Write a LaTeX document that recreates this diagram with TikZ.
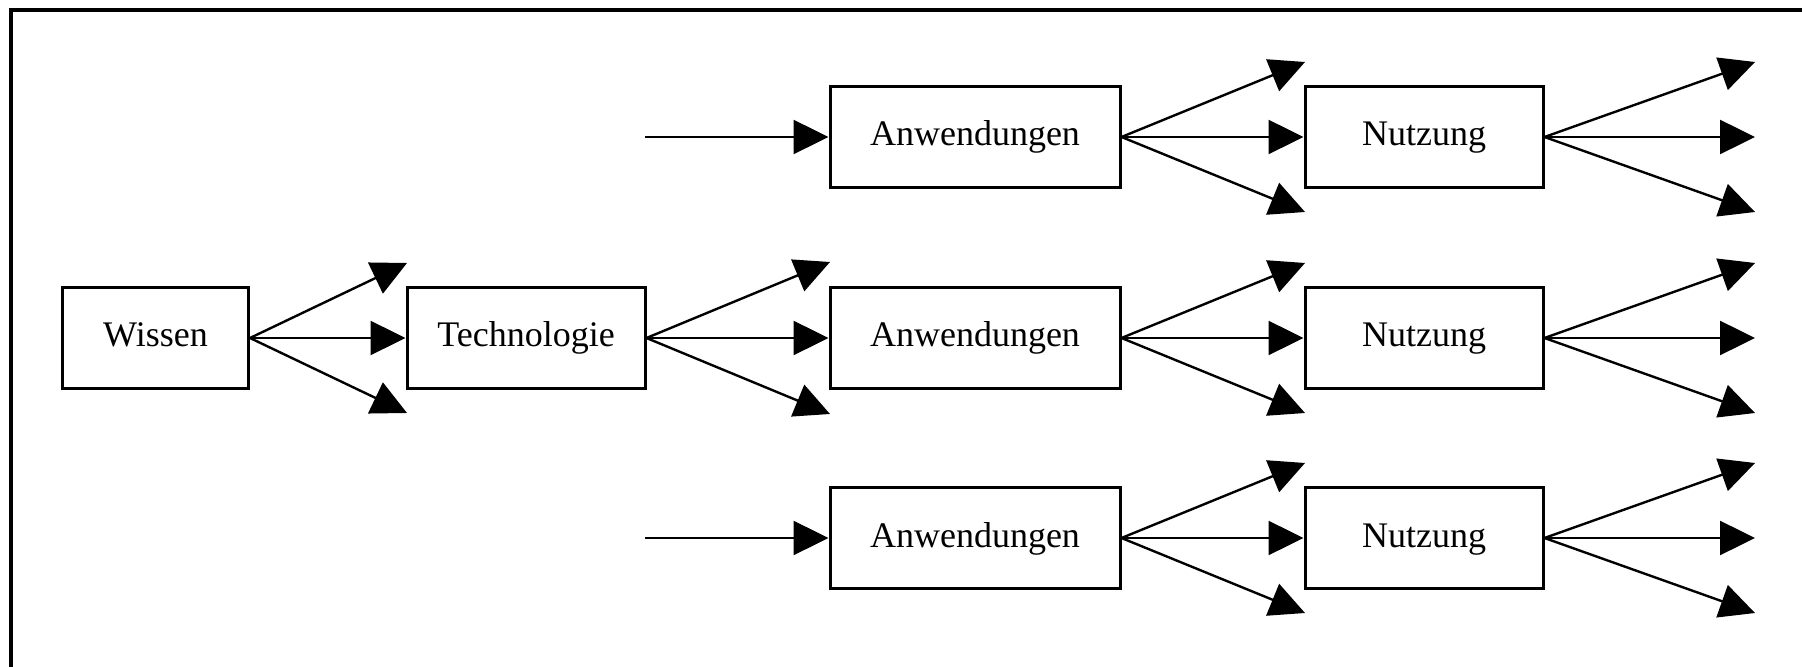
\documentclass[tikz,border=0pt]{standalone}
\usepackage{fontspec}
\setmainfont{Liberation Serif}
\usepackage{tikz}
\usetikzlibrary{positioning, arrows.meta}

\begin{document}
\begin{tikzpicture}[
  x=0.5pt, y=-0.5pt,
  box/.style={draw, line width=1.5pt, minimum height=50.5pt,
    inner sep=0pt, text height=12.5pt, text depth=3.5pt,
    font=\fontsize{18}{22}\selectfont},
  smallbox/.style={box, minimum width=119pt},
  widebox/.style={box, minimum width=145pt},
  flow/.style={-{Triangle[length=17.5pt, width=17pt]}, line width=1.2pt},
]
  \useasboundingbox (0,0) rectangle (1802,667);

  % Frame (left and top only)
  \draw[line width=2pt] (11,667) -- (11,10) -- (1802,10);

  % Boxes
  \node[box, minimum width=93pt] (wissen) at (155.5,338) {Wissen};
  \node[smallbox] (tech) at (526,338) {Technologie};

  \node[widebox] (anw1) at (975,137) {Anwendungen};
  \node[widebox] (anw2) at (975,338) {Anwendungen};
  \node[widebox] (anw3) at (975,538) {Anwendungen};

  \node[smallbox] (nutz1) at (1424,137) {Nutzung};
  \node[smallbox] (nutz2) at (1424,338) {Nutzung};
  \node[smallbox] (nutz3) at (1424,538) {Nutzung};

  % Free ends
  \coordinate (w-up) at (407,263);
  \coordinate (w-dn) at (407,413);
  \coordinate (t-up) at (830,262);
  \coordinate (t-dn) at (830,414);
  \coordinate (in1) at (645,137);
  \coordinate (in3) at (645,538);

  % Wissen fan
  \draw[flow] (wissen.east) -- (w-up);
  \draw[flow] (wissen.east) -- (tech.west);
  \draw[flow] (wissen.east) -- (w-dn);

  % Technologie fan
  \draw[flow] (tech.east) -- (t-up);
  \draw[flow] (tech.east) -- (anw2.west);
  \draw[flow] (tech.east) -- (t-dn);

  % Incoming to upper and lower row
  \draw[flow] (in1) -- (anw1.west);
  \draw[flow] (in3) -- (anw3.west);

  % Anwendungen and Nutzung fans
  \foreach \r/\y in {1/137, 2/338, 3/538} {
    \coordinate (a\r-up) at (1305,\y-75);
    \coordinate (a\r-dn) at (1305,\y+75);
    \coordinate (n\r-up) at (1755,\y-75);
    \coordinate (n\r-mid) at (1755,\y);
    \coordinate (n\r-dn) at (1755,\y+75);
    \draw[flow] (anw\r.east) -- (a\r-up);
    \draw[flow] (anw\r.east) -- (nutz\r.west);
    \draw[flow] (anw\r.east) -- (a\r-dn);
    \draw[flow] (nutz\r.east) -- (n\r-up);
    \draw[flow] (nutz\r.east) -- (n\r-mid);
    \draw[flow] (nutz\r.east) -- (n\r-dn);
  }
\end{tikzpicture}
\end{document}
